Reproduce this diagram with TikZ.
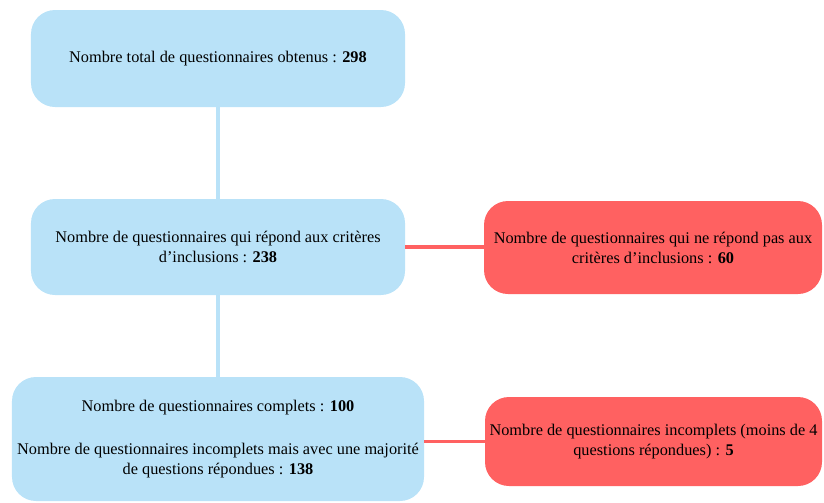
\documentclass[tikz,border=0pt]{standalone}
\usepackage{fontspec}
\setmainfont{Liberation Serif}
\definecolor{boxblue}{HTML}{B9E2F8}
\definecolor{boxred}{HTML}{FF6161}

\begin{document}
\begin{tikzpicture}[
		bluebox/.style={rectangle, rounded corners=0.6cm, fill=boxblue, align=center, inner sep=0pt,
			font=\fontsize{11.6}{14.2}\selectfont},
		redbox/.style={bluebox, fill=boxred},
		blueline/.style={line width=2.2pt, color=boxblue},
		redline/.style={line width=2.2pt, color=boxred}]
		%%%%% START %%%%%
		
		\useasboundingbox (0, 0) rectangle (20.6, -12.55);
		
		\node[bluebox, minimum width=9.35cm, minimum height=2.425cm] (total) at (5.45, -1.4625)
			{Nombre total de questionnaires obtenus : \textbf{298}};
		\node[bluebox, minimum width=9.35cm, minimum height=2.4cm] (incl) at (5.45, -6.175)
			{Nombre de questionnaires qui répond aux critères\\d’inclusions : \textbf{238}};
		\node[bluebox, minimum width=10.3cm, minimum height=3.1cm] (compl) at (5.45, -10.975)
			{Nombre de questionnaires complets : \textbf{100}\\[17pt]
			Nombre de questionnaires incomplets mais avec une majorité\\de questions répondues : \textbf{138}};
		
		\node[redbox, minimum width=8.45cm, minimum height=2.325cm] (excl) at (16.325, -6.1875)
			{Nombre de questionnaires qui ne répond pas aux\\critères d’inclusions : \textbf{60}};
		\node[redbox, minimum width=8.425cm, minimum height=2.225cm] (incompl) at (16.3375, -11.0375)
			{Nombre de questionnaires incomplets (moins de 4\\questions répondues) : \textbf{5}};
		
		\draw[blueline] (total.south) -- (incl.north);
		\draw[blueline] (incl.south) -- (compl.north);
		
		\draw[redline] (incl.east) -- (incl.east -| excl.west);
		\draw[redline] (incompl.west -| compl.east) -- (incompl.west);
		
		%%%%% END %%%%%
	\end{tikzpicture}
\end{document}
